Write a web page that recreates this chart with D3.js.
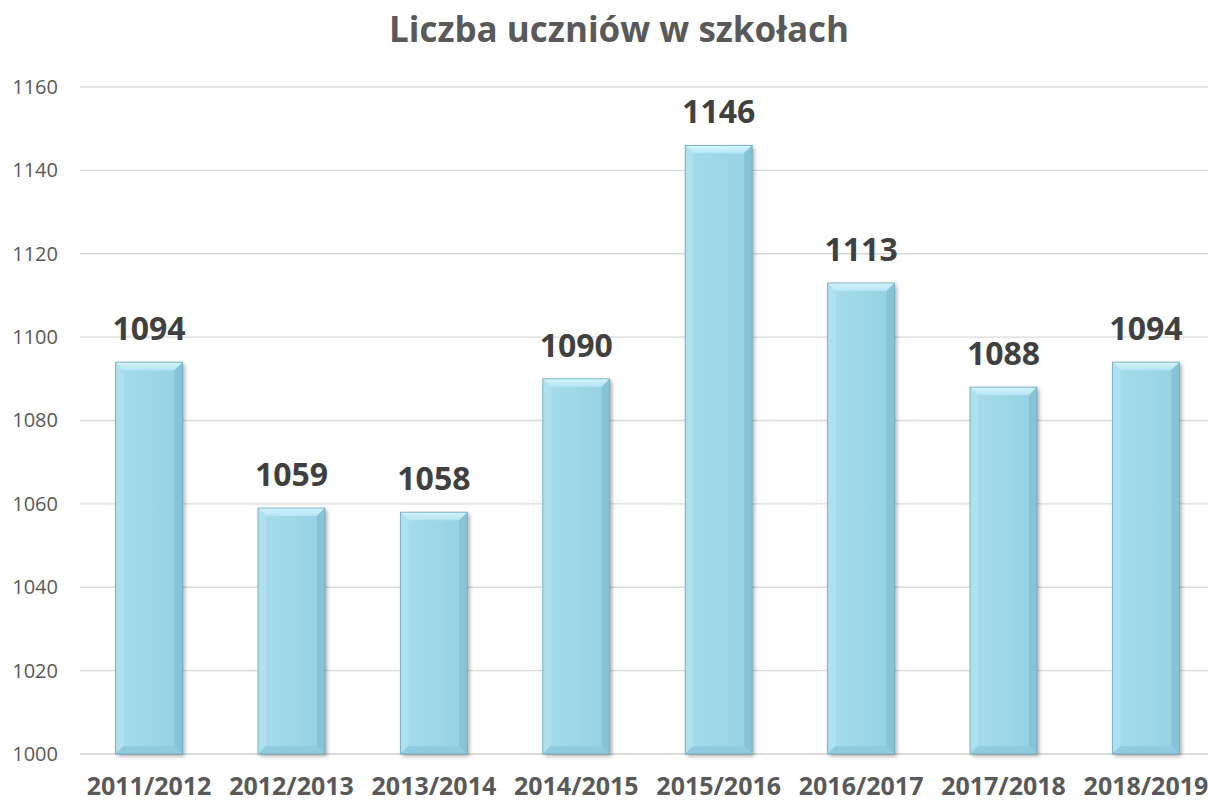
<!DOCTYPE html>
<html><head><meta charset="utf-8">
<script src="https://cdn.jsdelivr.net/npm/d3@7"></script>
<style>body{margin:0;background:#fff;overflow:hidden}</style>
</head><body>
<svg id="c" width="1208" height="802"></svg>
<script>
const categories = ["2011/2012","2012/2013","2013/2014","2014/2015","2015/2016","2016/2017","2017/2018","2018/2019"];
const values = [1094,1059,1058,1090,1146,1113,1088,1094];
const yTicks = [1000,1020,1040,1060,1080,1100,1120,1140,1160];
const title = "Liczba uczniów w szkołach";

(function(){
const svg = d3.select("#c");
const font = "'Open Sans', Lato, sans-serif";
const pl = 80, pr = 1215, pt = 87, pb = 754;

const x = d3.scaleBand().domain(categories).range([pl, pr]).paddingInner(0.53).paddingOuter(0.25);
const y = d3.scaleLinear().domain([1000,1160]).range([pb, pt]);

const defs = svg.append("defs");
const g1 = defs.append("linearGradient").attr("id","body").attr("x1",0).attr("x2",1).attr("y1",0).attr("y2",0);
g1.append("stop").attr("offset","0").attr("stop-color","#a6dcec");
g1.append("stop").attr("offset","0.5").attr("stop-color","#9dd7e8");
g1.append("stop").attr("offset","1").attr("stop-color","#95d1e3");
const g2 = defs.append("linearGradient").attr("id","topb").attr("x1",0).attr("x2",0).attr("y1",0).attr("y2",1);
g2.append("stop").attr("offset","0").attr("stop-color","#d4f4fb");
g2.append("stop").attr("offset","1").attr("stop-color","#b5e5f1");
const f = defs.append("filter").attr("id","sh").attr("x","-20%").attr("y","-20%").attr("width","140%").attr("height","140%");
f.append("feDropShadow").attr("dx",2).attr("dy",2).attr("stdDeviation",2).attr("flood-color","#000").attr("flood-opacity",0.35);

svg.append("g").selectAll("line").data(yTicks).join("line")
  .attr("x1", pl).attr("x2", 1208).attr("y1", d=>y(d)).attr("y2", d=>y(d))
  .attr("stroke", d=> d===1000 ? "#d0d0d0" : "#d9d9d9").attr("stroke-width",1.3);

const yAxis = d3.axisLeft(y).tickValues(yTicks).tickFormat(d3.format("d")).tickSize(0).tickPadding(22);
const ya = svg.append("g").attr("transform",`translate(${pl},0)`).call(yAxis);
ya.select(".domain").remove();
ya.selectAll("text").attr("font-family",font).attr("font-size",20).attr("fill","#595959");

const bars = svg.append("g").selectAll("g").data(categories).join("g");
const b = 8;
bars.each(function(c,i){
  const g = d3.select(this);
  const x0 = x(c), w = x.bandwidth(), y0 = y(values[i]), y1 = y(1000);
  g.append("rect").attr("x",x0).attr("y",y0).attr("width",w).attr("height",y1-y0)
    .attr("fill","url(#body)").attr("filter","url(#sh)");
  g.append("path").attr("d",`M${x0},${y0}L${x0+w},${y0}L${x0+w-b},${y0+b}L${x0+b},${y0+b}Z`).attr("fill","url(#topb)");
  g.append("path").attr("d",`M${x0},${y0}L${x0+b},${y0+b}L${x0+b},${y1-b}L${x0},${y1}Z`).attr("fill","#aee0ee");
  g.append("path").attr("d",`M${x0+w},${y0}L${x0+w-b},${y0+b}L${x0+w-b},${y1-b}L${x0+w},${y1}Z`).attr("fill","#86c3d6");
  g.append("path").attr("d",`M${x0},${y1}L${x0+b},${y1-b}L${x0+w-b},${y1-b}L${x0+w},${y1}Z`).attr("fill","#8ecbde");
  g.append("rect").attr("x",x0).attr("y",y0).attr("width",w).attr("height",y1-y0)
    .attr("fill","none").attr("stroke","#6fa9bb").attr("stroke-width",0.8);
  g.append("text").attr("x",x0+w/2).attr("y",y0-22).attr("text-anchor","middle")
    .attr("font-family",font).attr("font-weight","bold").attr("font-size",32).attr("fill","#404040")
    .text(values[i]);
});

const xAxis = d3.axisBottom(x).tickSize(0);
const xa = svg.append("g").attr("transform",`translate(0,${pb})`).call(xAxis);
xa.select(".domain").remove();
xa.selectAll("text").attr("y",41).attr("dy",0).attr("font-family",font).attr("font-weight","bold").attr("font-size",25).attr("fill","#595959");

svg.append("text").attr("x",619).attr("y",42).attr("text-anchor","middle")
  .attr("font-family",font).attr("font-weight","bold").attr("font-size",35).attr("fill","#595959").text(title);
})();
</script>
</body></html>
